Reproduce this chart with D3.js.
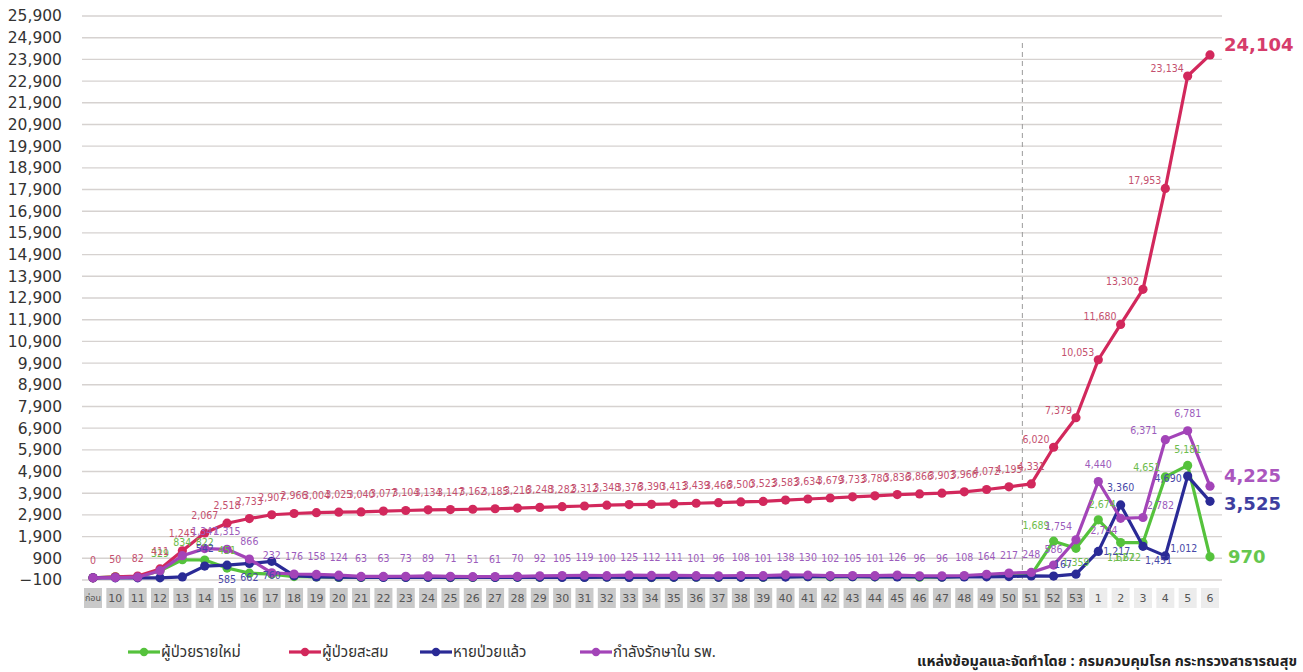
<!DOCTYPE html>
<html>
<head>
<meta charset="utf-8">
<script src="https://cdnjs.cloudflare.com/ajax/libs/d3/7.8.5/d3.min.js"></script>
<style>
  body { margin: 0; background: #fff; }
  svg { display: block; font-family: "DejaVu Sans", sans-serif; }
  .thai { font-family: "Noto Sans Thai", "Tahoma", "Loma", "Garuda", "DejaVu Sans", sans-serif; }
</style>
</head>
<body>
<div id="chart-container"></div>
<script>
var weeks = ['ก่อน', '10', '11', '12', '13', '14', '15', '16', '17', '18', '19', '20',
  '21', '22', '23', '24', '25', '26', '27', '28', '29', '30', '31', '32', '33', '34',
  '35', '36', '37', '38', '39', '40', '41', '42', '43', '44', '45', '46', '47', '48',
  '49', '50', '51', '52', '53', '1', '2', '3', '4', '5', '6'];

var newCases = [0, 50, 32, 329, 834, 822, 451, 215, 174, 59, 38, 21, 15, 37, 27, 30, 13,
  15, 23, 31, 32, 34, 30, 36, 28, 14, 23, 26, 27, 34, 23, 60, 51, 45, 54, 47, 56, 30,
  37, 63, 106, 123, 136, 1689, 1359, 2674, 1627, 1622, 4651, 5181, 970];

var totalCases = [0, 50, 82, 411, 1245, 2067, 2518, 2733, 2907, 2966, 3004, 3025, 3040,
  3077, 3104, 3134, 3147, 3162, 3185, 3216, 3248, 3282, 3312, 3348, 3376, 3390, 3413,
  3439, 3466, 3500, 3523, 3583, 3634, 3679, 3733, 3780, 3836, 3866, 3903, 3966, 4072,
  4195, 4331, 6020, 7379, 10053, 11680, 13302, 17953, 23134, 24104];

var recovered = [0, 0, 0, 0, 40, 542, 585, 662, 760, 100, 40, 30, 25, 20, 20, 25, 20, 25,
  20, 25, 25, 20, 20, 30, 20, 20, 25, 30, 25, 25, 30, 35, 50, 60, 50, 45, 40, 50, 30, 40,
  45, 60, 90, 80, 167, 1217, 3360, 1451, 1012, 4690, 3525];

var inHospital = [0, 10, 30, 329, 1020, 1347, 1315, 866, 232, 176, 158, 124, 63, 63, 73,
  89, 71, 51, 61, 70, 92, 105, 119, 100, 125, 112, 111, 101, 96, 108, 101, 138, 130, 102,
  105, 101, 126, 96, 96, 108, 164, 217, 248, 586, 1754, 4440, 2744, 2782, 6371, 6781, 4225];

var seriesNames = ['ผู้ป่วยรายใหม่', 'ผู้ป่วยสะสม', 'หายป่วยแล้ว', 'กำลังรักษาใน รพ.'];
var seriesColors = ['#55c23c', '#d2285c', '#2a2a96', '#a344b8'];
var labelColors = ['#6cbc4c', '#c4506e', '#4848a8', '#9c5cbc'];

var yTicks = d3.range(-100, 26000, 1000);
var sourceNote = 'แหล่งข้อมูลและจัดทำโดย : กรมควบคุมโรค กระทรวงสาธารณสุข';

function weekly_chart(container) {
  var _chart = {};
  var _svg = container.append('svg'),
      _width = 1303, _height = 672,
      _x = d3.scalePoint().domain(weeks).range([93, 1210]),
      _y = d3.scaleLinear().domain([-100, 25900]).range([580, 16]);

  var fmt = d3.format(',');

  _chart.render = function() {
    _svg.attr('width', _width).attr('height', _height);
    renderGrid();
    renderXLabels();
    renderSeries();
    renderLabels();
    renderEndLabels();
    renderLegend();
  };

  function renderGrid() {
    var g = _svg.append('g').attr('class', 'grid');
    g.selectAll('line').data(yTicks).enter().append('line')
      .attr('x1', 82).attr('x2', 1222)
      .attr('y1', function(d) { return _y(d); })
      .attr('y2', function(d) { return _y(d); })
      .attr('stroke', '#d6d2d0').attr('stroke-width', 1.4);

    var axis = d3.axisLeft(_y).tickValues(yTicks).tickFormat(fmt).tickSize(0).tickPadding(0);
    var ax = _svg.append('g').attr('transform', 'translate(62,0)').call(axis);
    ax.select('.domain').remove();
    ax.selectAll('text').attr('font-size', 15.5).attr('fill', '#333')
      .attr('font-family', '"DejaVu Sans", sans-serif');

    // dashed divider before week 51
    var dx = _x('50') + _x.step() * 0.6;
    _svg.append('line')
      .attr('x1', dx).attr('x2', dx).attr('y1', 43).attr('y2', 580)
      .attr('stroke', '#9a9a9a').attr('stroke-dasharray', '5,4').attr('stroke-width', 1);
  }

  function renderXLabels() {
    var g = _svg.append('g').attr('class', 'x-labels');
    var cells = g.selectAll('g').data(weeks).enter().append('g')
      .attr('transform', function(d) { return 'translate(' + _x(d) + ',598)'; });
    cells.append('rect')
      .attr('x', -9).attr('y', -10).attr('width', 18).attr('height', 20)
      .attr('fill', function(d, i) { return i >= 45 ? '#ececec' : '#c9c9c9'; });
    cells.append('text')
      .attr('class', function(d, i) { return i === 0 ? 'thai' : null; })
      .attr('text-anchor', 'middle').attr('dy', '0.35em')
      .attr('font-size', function(d, i) { return i === 0 ? 9 : 11; })
      .attr('fill', '#555')
      .text(function(d) { return d; });
  }

  function renderSeries() {
    var all = [newCases, totalCases, recovered, inHospital];
    all.forEach(function(values, s) {
      var line = d3.line()
        .x(function(d, i) { return _x(weeks[i]); })
        .y(function(d) { return _y(d); });
      var g = _svg.append('g').attr('class', 'series-' + s);
      g.append('path').datum(values)
        .attr('d', line).attr('fill', 'none')
        .attr('stroke', seriesColors[s]).attr('stroke-width', 3.2)
        .attr('stroke-linejoin', 'round');
      g.selectAll('circle').data(values).enter().append('circle')
        .attr('cx', function(d, i) { return _x(weeks[i]); })
        .attr('cy', function(d) { return _y(d); })
        .attr('r', 4.6).attr('fill', seriesColors[s]);
    });
  }

  // label offsets for the crowded points at the right-hand end
  var lateOffsets = {
    0: { 43: [-4, -12, 'end'], 44: [0, 18, 'middle'], 45: [4, -12, 'middle'],
         46: [0, 18, 'middle'], 47: [-2, 18, 'end'], 48: [-5, -6, 'end'], 49: [0, -12, 'middle'] },
    2: { 44: [-4, -6, 'end'], 45: [5, 4, 'start'], 46: [0, -14, 'middle'],
         47: [2, 18, 'start'], 48: [5, -4, 'start'], 49: [-6, 6, 'end'] },
    3: { 43: [0, -12, 'middle'], 44: [-4, -10, 'end'], 45: [0, -14, 'middle'],
         46: [-3, 16, 'end'], 47: [4, -8, 'start'], 48: [-8, -6, 'end'], 49: [0, -14, 'middle'] }
  };

  function labelPos(s, i, v) {
    var px = _x(weeks[i]), py = _y(v);
    if (s === 1) {
      if (i >= 43) return [px - 4, py - 4, 'end'];
      return [px, py - 14, 'middle'];
    }
    var o = lateOffsets[s] && lateOffsets[s][i];
    if (o) return [px + o[0], py + o[1], o[2]];
    if (s === 2 && i >= 6 && i <= 8) return [px, py + 18, 'middle'];
    return [px, py - 14, 'middle'];
  }

  function renderLabels() {
    var all = [newCases, totalCases, recovered, inHospital];
    all.forEach(function(values, s) {
      var pts = values.map(function(v, i) { return { v: v, i: i }; })
        .filter(function(d) {
          if (d.i === weeks.length - 1) return false;
          if (s === 2) return d.v >= 150;
          if (s === 0) return d.v >= 300;
          if (s === 3) return d.i >= 5;
          return true;
        });
      _svg.append('g').selectAll('text').data(pts).enter().append('text')
        .attr('x', function(d) { return labelPos(s, d.i, d.v)[0]; })
        .attr('y', function(d) { return labelPos(s, d.i, d.v)[1]; })
        .attr('text-anchor', function(d) { return labelPos(s, d.i, d.v)[2]; })
        .attr('font-family', '"DejaVu Sans Condensed", "DejaVu Sans", sans-serif')
        .attr('font-size', 10.5).attr('fill', labelColors[s])
        .text(function(d) { return fmt(d.v); });
    });
  }

  function renderEndLabels() {
    var last = weeks.length - 1;
    var ends = [
      { s: 1, v: totalCases[last], dy: -10 },
      { s: 3, v: inHospital[last], dy: -10 },
      { s: 2, v: recovered[last], dy: 2 },
      { s: 0, v: newCases[last], dy: 0 }
    ];
    _svg.append('g').selectAll('text').data(ends).enter().append('text')
      .attr('x', function(d) { return _x(weeks[last]) + (d.s === 0 ? 18 : 14); })
      .attr('y', function(d) { return _y(d.v) + d.dy; })
      .attr('dy', '0.35em')
      .attr('font-size', 18).attr('font-weight', 'bold')
      .attr('fill', function(d) { return seriesColors[d.s]; })
      .attr('opacity', 0.9)
      .text(function(d) { return fmt(d.v); });
  }

  function renderLegend() {
    var xs = [128, 289, 420, 580];
    var g = _svg.append('g').attr('class', 'legend');
    var items = g.selectAll('g').data(seriesNames).enter().append('g')
      .attr('transform', function(d, i) { return 'translate(' + xs[i] + ',652)'; });
    items.append('line').attr('x1', 0).attr('x2', 32)
      .attr('stroke', function(d, i) { return seriesColors[i]; }).attr('stroke-width', 3.2);
    items.append('circle').attr('cx', 16).attr('r', 4.2)
      .attr('fill', function(d, i) { return seriesColors[i]; });
    items.append('text').attr('class', 'thai')
      .attr('x', 33).attr('dy', '0.35em').attr('font-size', 15).attr('fill', '#333')
      .text(function(d) { return d; });

    _svg.append('text').attr('class', 'thai')
      .attr('x', 1297).attr('y', 661).attr('dy', '0.35em')
      .attr('text-anchor', 'end').attr('font-size', 14.5).attr('font-weight', 'bold')
      .attr('fill', '#222')
      .text(sourceNote);
  }

  return _chart;
}

weekly_chart(d3.select('#chart-container')).render();
</script>
</body>
</html>
